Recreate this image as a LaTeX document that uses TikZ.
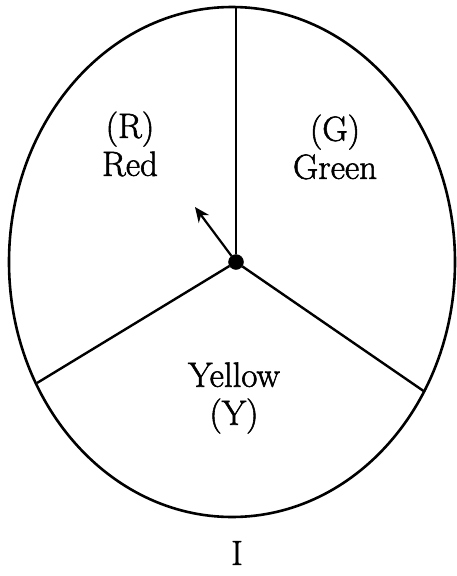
\documentclass[tikz,border=0pt]{standalone}
\usepackage{fontspec}
\usetikzlibrary{arrows.meta}

\newfontfamily\heavyrm[FakeBold=1.6]{Latin Modern Roman}

\newcommand*{\cx}{232}
\newcommand*{\cy}{262}

\begin{document}
\begin{tikzpicture}
[
	x=1pt,y=-1pt,
	rim/.style={line width=2.6pt},
	spoke/.style={line width=2.4pt},
	hubpt/.style={circle,draw,fill,inner sep=0pt,minimum size=15pt},
	sector/.style={font=\heavyrm\fontsize{35}{38}\selectfont,align=center,inner sep=0pt}
]
	\useasboundingbox (0,0) rectangle (457,576);

	% disc
	\draw[rim] (\cx,\cy) ellipse [x radius=223, y radius=255];

	% spokes
	\node[hubpt] at (236,262) (hub) {};
	\coordinate (top) at (236,7);
	\coordinate (left) at (37,383);
	\coordinate (right) at (425,392);
	\draw[line width=1.8pt] (hub) -- (top);
	\draw[spoke] (hub) -- (left);
	\draw[spoke] (hub) -- (right);

	% pointer
	\coordinate (tip) at (195,207);
	\draw[line width=2.2pt,-{Stealth[length=15pt,width=13pt]}] (hub) -- (tip);

	% labels
	\node[sector] at (130,144) (red) {(R)\\Red};
	\node[sector] at (335,147) (green) {(G)\\Green};
	\node[sector] at (234,398) (yellow) {Yellow\\(Y)};
	\node[sector] at (237,553) (name) {I};

\end{tikzpicture}
\end{document}
